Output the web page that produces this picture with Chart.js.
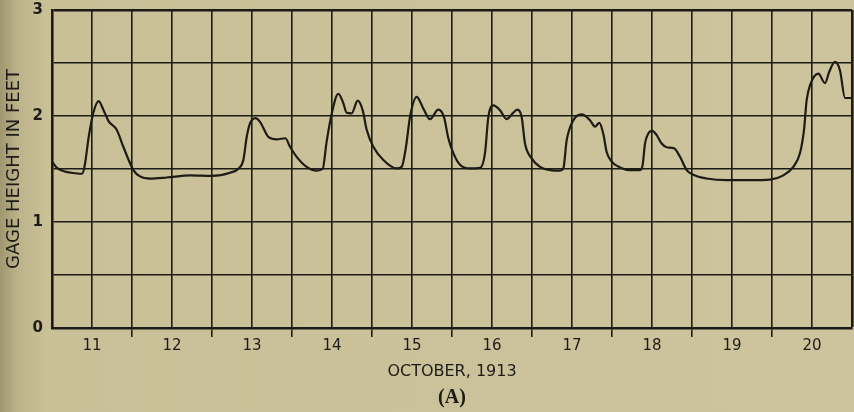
<!DOCTYPE html>
<html><head><meta charset="utf-8">
<script src="https://cdn.jsdelivr.net/npm/chart.js@4.4.0/dist/chart.umd.min.js"></script>
<style>
html,body{margin:0;padding:0;}
body{width:854px;height:412px;overflow:hidden;
background:linear-gradient(to right, rgb(160,151,112) 0px, rgb(188,179,139) 18px, rgb(201,192,152) 45px, rgb(205,196,157) 100%);}
#wrap{width:854px;height:412px;position:relative}
</style></head><body><div id="wrap"><canvas id="c"></canvas></div>
<script>
// hours from midnight starting October 11, 1913
const hours = [0,1.5,4,7,9,9.8,11,12.4,14,15.4,17,19.4,21.4,23,24.4,26.4,29.4,34.4,41.4,48,53.4,56,57.4,58.4,59.4,61,62.4,65,67.4,70,71.4,73.4,76.4,79.4,81.2,82.4,83.9,85.9,87.4,88.4,89.9,91.7,93.2,94.4,96.4,99.4,103.4,104.9,106.2,107.4,109.4,111.4,113.4,115.9,117.6,118.9,120.4,122.4,125.4,128.4,129.9,130.9,132.4,134.4,136.4,138.2,139.6,140.9,141.9,143.9,146.4,149.4,152.4,153.4,154.4,156.4,158.9,161.4,162.9,164.2,165.4,166.4,167.9,170.4,173.4,176.4,177.2,177.9,178.9,180.1,181.4,182.9,184.4,186.6,188.4,190.4,192.4,196.4,202.4,209.4,215.4,219.4,222.4,224.4,225.6,226.4,227.4,229.9,231.9,233.2,234.9,236.4,237.9,240];
const gageFeet = [1.57,1.51,1.475,1.46,1.455,1.53,1.80,2.03,2.14,2.06,1.95,1.87,1.71,1.585,1.49,1.43,1.41,1.42,1.44,1.435,1.465,1.505,1.585,1.80,1.93,1.98,1.945,1.80,1.78,1.79,1.71,1.615,1.52,1.485,1.50,1.76,2.02,2.21,2.12,2.03,2.025,2.145,2.055,1.87,1.71,1.585,1.505,1.52,1.71,1.99,2.18,2.07,1.97,2.06,1.99,1.79,1.65,1.54,1.505,1.51,1.65,1.99,2.10,2.055,1.97,2.025,2.06,1.99,1.74,1.60,1.52,1.49,1.485,1.505,1.77,1.96,2.015,1.96,1.90,1.935,1.83,1.66,1.57,1.515,1.49,1.49,1.54,1.74,1.835,1.86,1.82,1.74,1.705,1.695,1.615,1.49,1.445,1.41,1.395,1.395,1.40,1.44,1.52,1.65,1.87,2.15,2.29,2.40,2.31,2.42,2.51,2.43,2.17,2.17];
const dayLabels = ['11','12','13','14','15','16','17','18','19','20'];
const yTickLabels = ['0','1','2','3'];
const xTitle = 'OCTOBER, 1913';
const yTitle = 'GAGE HEIGHT IN FEET';
const figLabel = '(A)';

const ink = '#1d1b15';
const points = hours.map((h,i)=>({x:h, y:gageFeet[i]}));

new Chart(document.getElementById('c'), {
  type:'line',
  data:{datasets:[{data:points, borderColor:ink, borderWidth:2.2, pointRadius:0, cubicInterpolationMode:'monotone', fill:false}]},
  options:{
    responsive:true, maintainAspectRatio:false, animation:false,
    layout:{padding:{left:0,right:2,top:10,bottom:0}},
    plugins:{
      legend:{display:false}, tooltip:{enabled:false},
      title:{display:true, text:figLabel, position:'bottom', fullSize:false, color:ink,
        font:{family:'Liberation Serif', size:20, weight:'bold', lineHeight:1.2}, padding:{top:0,bottom:2}}
    },
    scales:{
      x:{type:'linear', min:0, max:240,
        afterFit:(s)=>{s.height=58; s.paddingLeft=0; s.paddingRight=0;},
        ticks:{stepSize:12, autoSkip:false, maxRotation:0, color:ink, padding:0,
          font:{family:'DejaVu Sans', size:15},
          callback:(v)=> (v%24===12) ? dayLabels[(v-12)/24] : ''},
        grid:{color:ink, lineWidth:(c)=> (c.tick && c.tick.value===240) ? 2.6 : 1.6, tickLength:9,
          tickColor:(c)=> (c.tick && c.tick.value%24===0 && c.tick.value>0 && c.tick.value<240) ? ink : 'rgba(0,0,0,0)', tickWidth:1.6},
        border:{display:true, color:ink, width:2.6},
        title:{display:true, text:xTitle, color:ink, font:{family:'DejaVu Sans', size:16, lineHeight:1.2}, padding:{top:4,bottom:5}}
      },
      y:{min:0, max:3,
        afterFit:(s)=>{s.width=52; s.paddingTop=0; s.paddingBottom=0;},
        ticks:{stepSize:0.5, autoSkip:false, color:ink, padding:9,
          font:{family:'DejaVu Sans', size:15, weight:'bold'},
          callback:(v)=> Number.isInteger(v) ? yTickLabels[v] : ''},
        grid:{color:ink, lineWidth:(c)=> (c.tick && c.tick.value===3) ? 2.6 : 1.6, drawTicks:false},
        border:{display:true, color:ink, width:2.6},
        title:{display:true, text:yTitle, color:ink, font:{family:'DejaVu Sans', size:18, lineHeight:1.2}, padding:{top:4,bottom:0}}
      }
    }
  }
});
</script></body></html>
